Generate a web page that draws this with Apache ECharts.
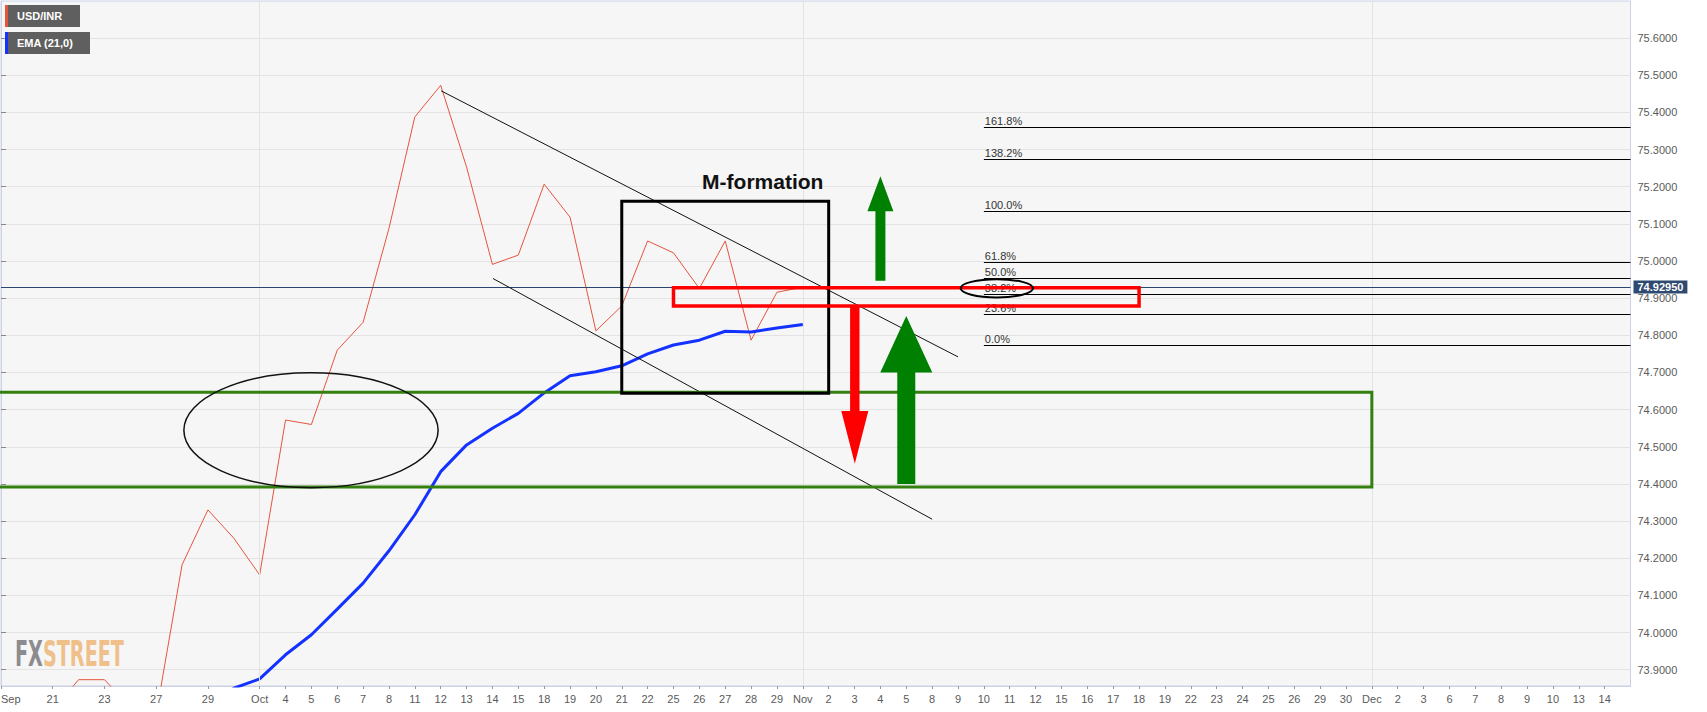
<!DOCTYPE html>
<html>
<head>
<meta charset="utf-8">
<title>USD/INR</title>
<script src="https://cdn.jsdelivr.net/npm/echarts@6/dist/echarts.min.js"></script>
<style>
  html, body { margin: 0; padding: 0; background: #fff; }
  #chart { width: 1707px; height: 712px; }
</style>
</head>
<body>
<div id="chart"></div>
<script>
// trading days from 17 Sep to 15 Dec 2021, '' = day without a label
const dayLabels = [
  "Sep", "", "21", "", "23", "", "27", "", "29", "",
  "Oct", "4", "5", "6", "7", "8", "11", "12", "13", "14", "15", "18", "19", "20", "21", "22", "25", "26", "27", "28", "29",
  "Nov", "2", "3", "4", "5", "8", "9", "10", "11", "12", "15", "16", "17", "18", "19", "22", "23", "24", "25", "26", "29", "30",
  "Dec", "2", "3", "6", "7", "8", "9", "10", "13", "14", ""
];
const monthStarts = [10, 31, 53];

// daily closes (first points sit below the visible range)
const usdInr = [
  73.55, 73.62, 73.79, 73.873, 73.873, 73.80, 73.78, 74.182, 74.330, 74.254,
  74.155, 74.572, 74.560, 74.760, 74.835, 75.088, 75.388, 75.473, 75.253, 74.991,
  75.016, 75.207, 75.118, 74.812, 74.879, 75.054, 75.022, 74.926, 75.054, 74.787,
  74.916, 74.9295
];
const ema21 = [
  73.70, 73.70, 73.71, 73.72, 73.73, 73.735, 73.74, 73.76, 73.80, 73.85,
  73.875, 73.940, 73.994, 74.063, 74.133, 74.220, 74.317, 74.433, 74.505, 74.550,
  74.590, 74.645, 74.691, 74.702, 74.718, 74.750, 74.774, 74.787, 74.811, 74.809,
  74.820, 74.829
];
const lastPrice = 74.9295;
const yTicks = [73.9, 74.0, 74.1, 74.2, 74.3, 74.4, 74.5, 74.6, 74.7, 74.8, 74.9,
  75.0, 75.1, 75.2, 75.3, 75.4, 75.5, 75.6];

// fibonacci levels
const fibLabels = ["0.0%", "23.6%", "38.2%", "50.0%", "61.8%", "100.0%", "138.2%", "161.8%"];
const fibValues = [74.773, 74.857, 74.911, 74.953, 74.996, 75.134, 75.273, 75.359];
const fibStart = 38;

// drawings, in [day index, price]
const trendUpper = [[17.02, 75.458], [37.0, 74.742]];
const trendLower = [[19.02, 74.953], [36.0, 74.305]];
const mBox = [[24.0, 75.161], [32.0, 74.644]];
const mLabel = [29.45, 75.213];
const redBox = [[26.0, 74.928], [44.0, 74.879]];
const greenBox = [[-2, 74.647], [53.0, 74.392]];
const bigEllipse = [[7.07, 74.699], [16.9, 74.390]];
const fibEllipse = [[37.1, 74.951], [39.9, 74.902]];
const arrows = [
  { x: 34, tail: 74.947, base: 75.134, tip: 75.228, shaft: 5, head: 13, color: "#008000" },
  { x: 35, tail: 74.400, base: 74.700, tip: 74.852, shaft: 9, head: 26, color: "#008000" },
  { x: 33.01, tail: 74.877, base: 74.596, tip: 74.454, shaft: 4.7, head: 13.5, color: "#ff0000" }
];

const font = "Liberation Sans, Arial, sans-serif";
const tickIdx = dayLabels.map((d, i) => (d ? i : -1)).filter(i => i >= 0);

let myChart = echarts.init(document.getElementById("chart"), null, { renderer: "svg" });

myChart.setOption({
  animation: false,
  backgroundColor: "#fff",
  grid: {
    left: 1,
    top: 1,
    right: 76.5,
    bottom: 26,
    outerBoundsMode: "none",
    containLabel: false,
    show: true,
    backgroundColor: "#f6f6f6",
    borderColor: "#cbd2e6",
    borderWidth: 1
  },
  xAxis: {
    type: "value",
    min: 0,
    max: 63,
    axisLine: { show: true, lineStyle: { color: "#cbd2e6" } },
    axisTick: { show: true, length: 3, customValues: tickIdx, lineStyle: { color: "#999" } },
    axisLabel: {
      customValues: tickIdx,
      margin: 7,
      color: "#5a5a5a",
      fontSize: 11,
      fontFamily: font,
      alignMinLabel: "left",
      formatter: v => dayLabels[Math.round(v)] || ""
    },
    splitLine: { show: false }
  },
  yAxis: {
    type: "value",
    position: "right",
    min: 73.856,
    max: 75.7,
    axisLine: { show: true, lineStyle: { color: "#cbd2e6" } },
    axisTick: { show: true, length: 5, customValues: yTicks, lineStyle: { color: "#888" } },
    axisLabel: {
      customValues: yTicks,
      margin: 7,
      color: "#5a5a5a",
      fontSize: 11,
      fontFamily: font,
      formatter: v => v.toFixed(4)
    },
    splitLine: { show: true, lineStyle: { color: "#e3e3e3", width: 1 } }
  },
  series: [
    {
      name: "months",
      type: "line",
      data: [],
      z: 1,
      markLine: {
        silent: true,
        symbol: "none",
        label: { show: false },
        lineStyle: { color: "#e3e3e3", width: 1, type: "solid" },
        data: monthStarts.map(m => ({ xAxis: m }))
      }
    },
    {
      name: "USD/INR",
      type: "line",
      data: usdInr.map((v, i) => [i, v]),
      symbol: "none",
      z: 3,
      lineStyle: { color: "#e4553e", width: 1 },
      markLine: {
        silent: true,
        symbol: "none",
        data: [
          {
            yAxis: lastPrice,
            lineStyle: { color: "#2b4470", width: 1, type: "solid" },
            label: {
              show: true,
              position: "end",
              distance: 3,
              formatter: "74.92950",
              color: "#fff",
              fontWeight: "bold",
              fontSize: 11,
              fontFamily: font,
              backgroundColor: "#2f4a70",
              padding: [1, 4, 1, 4]
            }
          }
        ]
      }
    },
    {
      name: "EMA (21,0)",
      type: "line",
      data: ema21.map((v, i) => [i, v]),
      symbol: "none",
      z: 4,
      lineStyle: { color: "#1432ff", width: 3 }
    },
    {
      name: "fib",
      type: "line",
      data: [],
      z: 5,
      markLine: {
        silent: true,
        symbol: "none",
        lineStyle: { color: "#000", width: 1, type: "solid" },
        label: {
          show: true,
          position: "insideStartTop",
          distance: 1,
          color: "#333",
          fontSize: 11,
          fontFamily: font,
          formatter: "{b}"
        },
        data: fibValues.map((v, i) => [
          { name: fibLabels[i], coord: [fibStart, v] },
          { coord: [63, v] }
        ])
      }
    },
    {
      name: "trend",
      type: "line",
      data: [],
      z: 5,
      markLine: {
        silent: true,
        symbol: "none",
        label: { show: false },
        lineStyle: { color: "#111", width: 1, type: "solid" },
        data: [
          [{ coord: trendUpper[0] }, { coord: trendUpper[1] }],
          [{ coord: trendLower[0] }, { coord: trendLower[1] }]
        ]
      }
    }
  ]
});

// drawings on top of the chart
function px(p) {
  return myChart.convertToPixel({ gridIndex: 0 }, p);
}
function boxShape(b) {
  let a = px(b[0]);
  let c = px(b[1]);
  return { x: a[0], y: a[1], width: c[0] - a[0], height: c[1] - a[1] };
}
function ellipseShape(b) {
  let a = px(b[0]);
  let c = px(b[1]);
  return { cx: (a[0] + c[0]) / 2, cy: (a[1] + c[1]) / 2, rx: (c[0] - a[0]) / 2, ry: (c[1] - a[1]) / 2 };
}
function arrowPoints(ar) {
  let cx = px([ar.x, ar.tail])[0];
  let yTail = px([ar.x, ar.tail])[1];
  let yBase = px([ar.x, ar.base])[1];
  let yTip = px([ar.x, ar.tip])[1];
  return [
    [cx - ar.shaft, yTail], [cx - ar.shaft, yBase], [cx - ar.head, yBase], [cx, yTip],
    [cx + ar.head, yBase], [cx + ar.shaft, yBase], [cx + ar.shaft, yTail]
  ];
}

let graphics = [
  { type: "rect", z: 50, shape: boxShape(greenBox), style: { fill: "none", stroke: "#33800f", lineWidth: 3 } },
  { type: "ellipse", z: 50, shape: ellipseShape(bigEllipse), style: { fill: "none", stroke: "#111", lineWidth: 1.5 } },
  { type: "rect", z: 51, shape: boxShape(mBox), style: { fill: "none", stroke: "#000", lineWidth: 3 } },
  { type: "rect", z: 52, shape: boxShape(redBox), style: { fill: "none", stroke: "#ff0000", lineWidth: 3.5 } },
  { type: "ellipse", z: 52, shape: ellipseShape(fibEllipse), style: { fill: "none", stroke: "#000", lineWidth: 2 } },
  {
    type: "text", z: 52,
    x: px(mLabel)[0], y: px(mLabel)[1],
    style: {
      text: "M-formation", fill: "#111", font: "bold 21px " + font,
      textAlign: "center", textVerticalAlign: "middle"
    }
  }
];
arrows.forEach(ar => {
  graphics.push({ type: "polygon", z: 53, shape: { points: arrowPoints(ar) }, style: { fill: ar.color } });
});

// series tags, top left
[["USD/INR", "#e4553e", 5, 75], ["EMA (21,0)", "#1432ff", 32, 85]].forEach(t => {
  graphics.push({ type: "rect", z: 60, shape: { x: 5, y: t[2], width: t[3], height: 22 }, style: { fill: "#5f5f5f" } });
  graphics.push({ type: "rect", z: 61, shape: { x: 5, y: t[2], width: 3, height: 22 }, style: { fill: t[1] } });
  graphics.push({
    type: "text", z: 61, x: 17, y: t[2] + 11,
    style: { text: t[0], fill: "#fff", font: "bold 11px " + font, textVerticalAlign: "middle" }
  });
});

// watermark
graphics.push({
  type: "text", z: 2, x: 15, y: 654, scaleX: 0.61,
  style: {
    text: "{a|FX}{b|STREET}",
    textVerticalAlign: "middle",
    rich: {
      a: { fill: "#8c8c90", font: "bold 35px Liberation Sans Narrow, DejaVu Sans Condensed, sans-serif" },
      b: { fill: "#efc08a", font: "bold 35px Liberation Sans Narrow, DejaVu Sans Condensed, sans-serif" }
    }
  }
});

myChart.setOption({ graphic: graphics });
</script>
</body>
</html>
